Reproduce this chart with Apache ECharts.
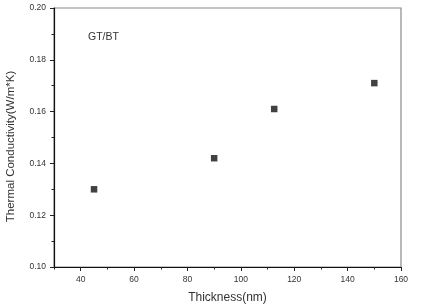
<!DOCTYPE html>
<html><head><meta charset="utf-8">
<script src="https://cdn.jsdelivr.net/npm/echarts@6/dist/echarts.min.js"></script>
<style>html,body{margin:0;padding:0;background:#fff}#c{width:421px;height:308px}</style>
</head><body><div id="c"></div>
<script>
var thickness = [45, 90, 112.5, 150];
var conductivity = [0.130, 0.142, 0.161, 0.171];
var xMajorTicks = [40, 60, 80, 100, 120, 140, 160];
var xMinorTicks = [30, 50, 70, 90, 110, 130, 150];
var seriesLabel = 'GT/BT';
var xName = 'Thickness(nm)';
var yName = 'Thermal Conductivity(W/m*K)';

var font = '"Liberation Sans", Arial, sans-serif';
var chart = echarts.init(document.getElementById('c'));
chart.setOption({
  animation: false,
  grid: {left: 54, top: 8, right: 20, bottom: 41, containLabel: false, outerBoundsMode: 'none', show: true, borderColor: '#8a8a8a', borderWidth: 1.2, backgroundColor: '#fff'},
  xAxis: [{
    type: 'value', min: 30, max: 160,
    name: xName, nameLocation: 'middle', nameGap: 25,
    nameTextStyle: {fontFamily: font, fontSize: 12, color: '#333'},
    axisLine: {lineStyle: {color: '#111', width: 1.2}},
    axisTick: {customValues: xMajorTicks, length: 4, lineStyle: {color: '#222'}},
    axisLabel: {customValues: xMajorTicks, fontFamily: font, fontSize: 8.5, color: '#333', margin: 8},
    splitLine: {show: false}
  }, {
    type: 'value', min: 30, max: 160, position: 'bottom',
    axisLine: {show: false},
    axisTick: {customValues: xMinorTicks, length: 2.5, lineStyle: {color: '#222'}},
    axisLabel: {show: false},
    splitLine: {show: false}
  }],
  yAxis: {
    type: 'value', min: 0.10, max: 0.20, interval: 0.02,
    name: yName, nameLocation: 'middle', nameGap: 37,
    nameTextStyle: {fontFamily: font, fontSize: 11.5, color: '#333', padding: [0, 18, 0, 0]},
    axisLine: {show: true, lineStyle: {color: '#111', width: 1.2}},
    axisTick: {show: true, length: 4, lineStyle: {color: '#222'}},
    minorTick: {show: true, splitNumber: 2, length: 2.5, lineStyle: {color: '#222'}},
    axisLabel: {fontFamily: font, fontSize: 8.5, color: '#333', margin: 8, formatter: function(v){return v.toFixed(2);}},
    splitLine: {show: false}
  },
  graphic: [{type: 'text', left: 88, top: 32, style: {text: seriesLabel, font: '10.5px ' + font, fill: '#333'}}],
  series: [{
    type: 'scatter', xAxisIndex: 0,
    data: thickness.map(function(x, i){return [x, conductivity[i]];}),
    symbol: 'rect', symbolSize: 6.5,
    itemStyle: {color: '#111'}
  }]
});
</script></body></html>
